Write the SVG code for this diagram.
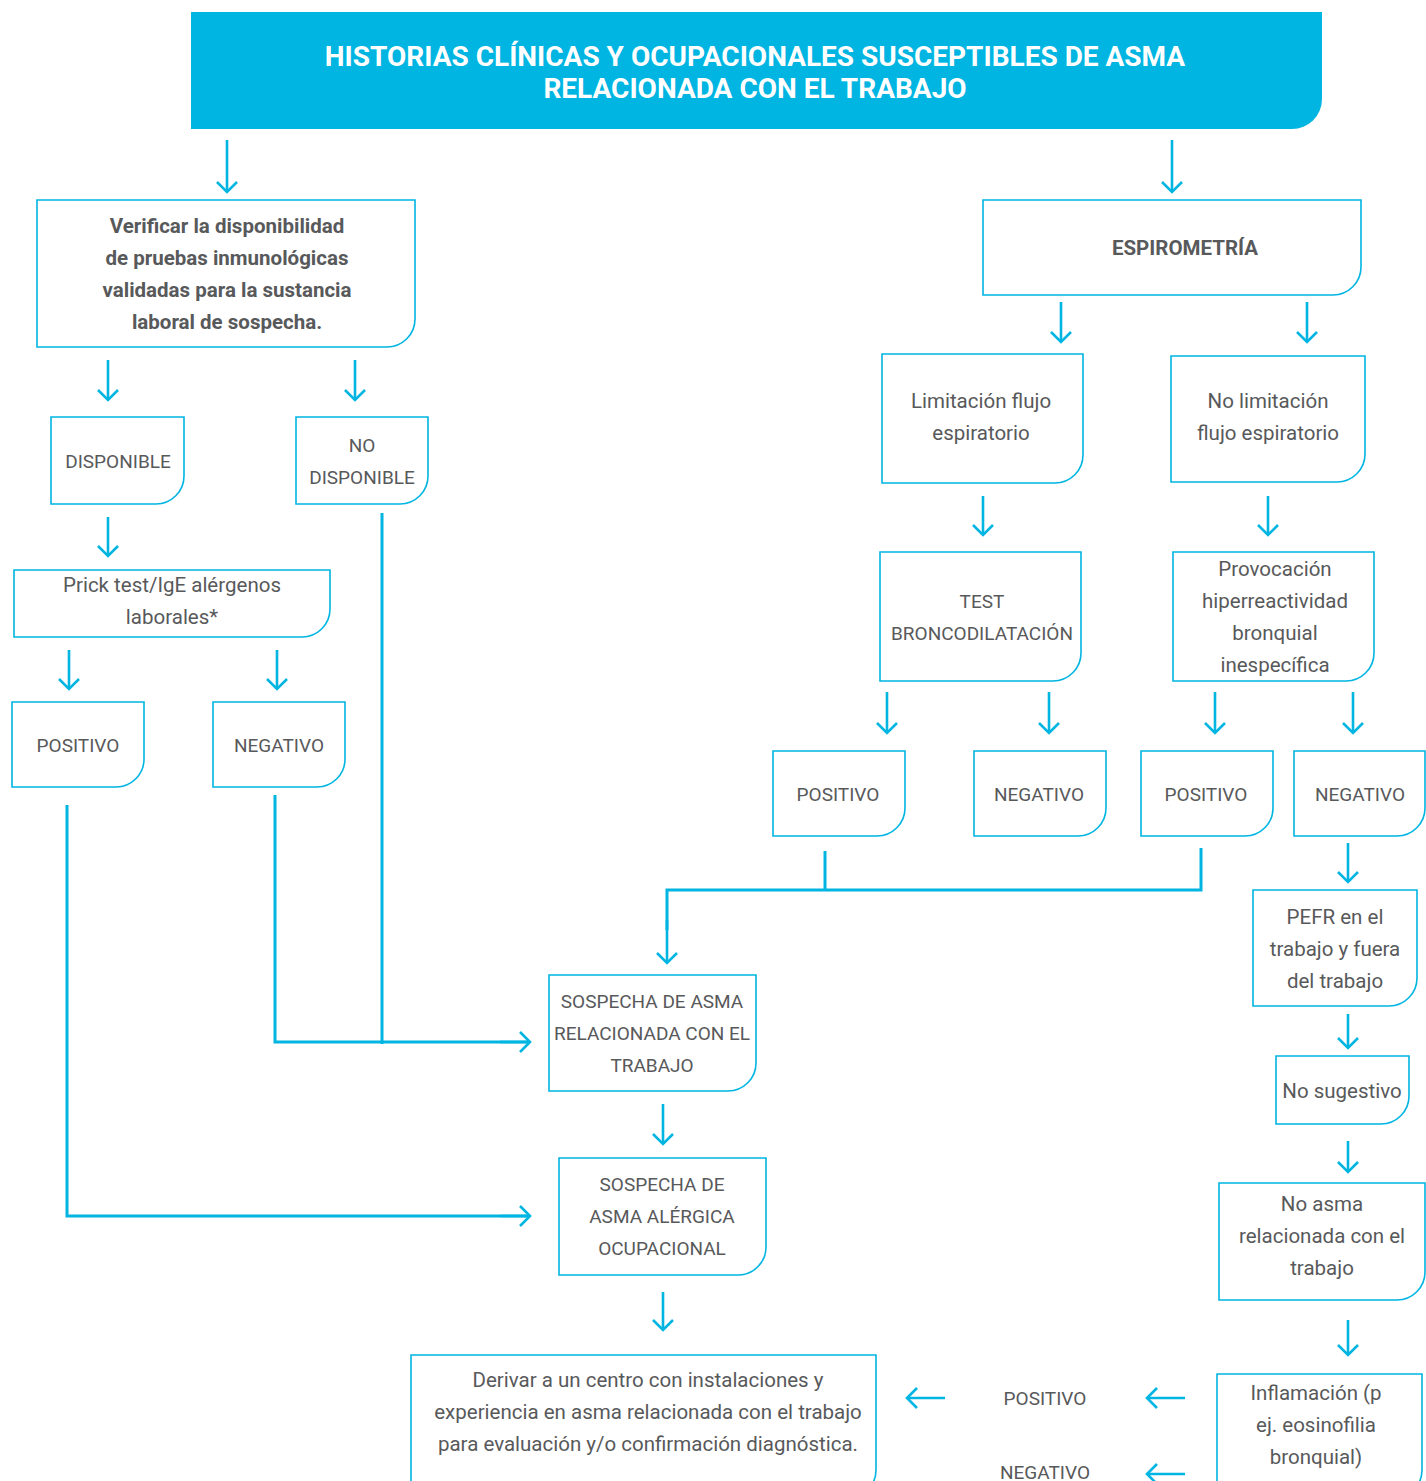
<svg xmlns="http://www.w3.org/2000/svg" width="1426" height="1481" viewBox="0 0 1426 1481">
<style>
.bx{fill:#fff;stroke:#00b5e2;stroke-width:1.6}
.t{font-family:Roboto,"Liberation Sans",sans-serif;font-size:19px;fill:#58595b;text-anchor:middle;dominant-baseline:central}
.l{font-size:20.5px}
.b{font-weight:bold;font-size:20.5px}
.ar{fill:none;stroke:#00b5e2;stroke-width:2.6;marker-end:url(#ah)}
.ln{fill:none;stroke:#00b5e2;stroke-width:3}
.h{font-family:Roboto,"Liberation Sans",sans-serif;font-size:28px;font-weight:bold;fill:#fff;text-anchor:middle;dominant-baseline:central}
</style>
<defs>
<marker id="ah" viewBox="0 0 24 24" markerWidth="24" markerHeight="24" refX="12" refY="12" orient="auto" markerUnits="userSpaceOnUse">
<path d="M2 2 L12 12 L2 22" fill="none" stroke="#00b5e2" stroke-width="2.6"/>
</marker>
</defs>
<rect width="1426" height="1481" fill="#fff"/>

<g id="header">
<path d="M191 12 H1322 V99 A30 30 0 0 1 1292 129 H191 Z" fill="#00b5e2"/>
<text class="h" x="755" y="56">HISTORIAS CLÍNICAS Y OCUPACIONALES SUSCEPTIBLES DE ASMA</text>
<text class="h" x="755" y="88">RELACIONADA CON EL TRABAJO</text>
</g>

<g id="connectors">
<path class="ar" d="M227 140 V192"/>
<path class="ar" d="M1172 140 V192"/>
<path class="ar" d="M108 360 V400"/>
<path class="ar" d="M355 360 V400"/>
<path class="ar" d="M108 517 V556"/>
<path class="ar" d="M69 650 V689"/>
<path class="ar" d="M277 650 V689"/>
<path class="ln" d="M67 805 V1216 H528"/>
<path class="ar" d="M500 1216 H530"/>
<path class="ln" d="M275 795 V1042 H528"/>
<path class="ar" d="M500 1042 H530"/>
<path class="ln" d="M382 513 V1044"/>
<path class="ar" d="M1061 302 V342"/>
<path class="ar" d="M1307 302 V342"/>
<path class="ar" d="M983 496 V535"/>
<path class="ar" d="M1268 496 V535"/>
<path class="ar" d="M887 692 V733"/>
<path class="ar" d="M1049 692 V733"/>
<path class="ar" d="M1215 692 V733"/>
<path class="ar" d="M1353 692 V733"/>
<path class="ln" d="M825 851 V890"/>
<path class="ln" d="M1201 848 V890 H667 V930"/>
<path class="ar" d="M667 920 V963"/>
<path class="ar" d="M1348 843 V882"/>
<path class="ar" d="M1348 1014 V1048"/>
<path class="ar" d="M1348 1141 V1172"/>
<path class="ar" d="M663 1104 V1144"/>
<path class="ar" d="M663 1292 V1330"/>
<path class="ar" d="M1348 1320 V1355"/>
<path class="ar" d="M1185 1398 H1147"/>
<path class="ar" d="M945 1398 H907"/>
<path class="ar" d="M1185 1474 H1147"/>
</g>

<g id="n-verificar">
<path class="bx" d="M37 200 H415 V319 A28 28 0 0 1 387 347 H37 Z"/>
<text class="t b" x="227" y="226">Verificar la disponibilidad</text>
<text class="t b" x="227" y="258">de pruebas inmunológicas</text>
<text class="t b" x="227" y="290">validadas para la sustancia</text>
<text class="t b" x="227" y="322">laboral de sospecha.</text>
</g>
<g id="n-espirometria">
<path class="bx" d="M983 200 H1361 V267 A28 28 0 0 1 1333 295 H983 Z"/>
<text class="t b" x="1185" y="248">ESPIROMETRÍA</text>
</g>
<g id="n-disponible">
<path class="bx" d="M51 417 H184 V476 A28 28 0 0 1 156 504 H51 Z"/>
<text class="t" x="118" y="461">DISPONIBLE</text>
</g>
<g id="n-nodisponible">
<path class="bx" d="M296 417 H428 V476 A28 28 0 0 1 400 504 H296 Z"/>
<text class="t" x="362" y="445">NO</text>
<text class="t" x="362" y="477">DISPONIBLE</text>
</g>
<g id="n-prick">
<path class="bx" d="M14 570 H330 V609 A28 28 0 0 1 302 637 H14 Z"/>
<text class="t l" x="172" y="585">Prick test/IgE alérgenos</text>
<text class="t l" x="172" y="617">laborales*</text>
</g>
<g id="n-pos1">
<path class="bx" d="M12 702 H144 V759 A28 28 0 0 1 116 787 H12 Z"/>
<text class="t" x="78" y="745">POSITIVO</text>
</g>
<g id="n-neg1">
<path class="bx" d="M213 702 H345 V759 A28 28 0 0 1 317 787 H213 Z"/>
<text class="t" x="279" y="745">NEGATIVO</text>
</g>
<g id="n-limitacion">
<path class="bx" d="M882 354 H1083 V455 A28 28 0 0 1 1055 483 H882 Z"/>
<text class="t l" x="981" y="401">Limitación flujo</text>
<text class="t l" x="981" y="433">espiratorio</text>
</g>
<g id="n-nolimitacion">
<path class="bx" d="M1171 356 H1365 V454 A28 28 0 0 1 1337 482 H1171 Z"/>
<text class="t l" x="1268" y="401">No limitación</text>
<text class="t l" x="1268" y="433">flujo espiratorio</text>
</g>
<g id="n-test">
<path class="bx" d="M880 552 H1081 V653 A28 28 0 0 1 1053 681 H880 Z"/>
<text class="t" x="982" y="601">TEST</text>
<text class="t" x="982" y="633">BRONCODILATACIÓN</text>
</g>
<g id="n-provocacion">
<path class="bx" d="M1173 552 H1374 V653 A28 28 0 0 1 1346 681 H1173 Z"/>
<text class="t l" x="1275" y="569">Provocación</text>
<text class="t l" x="1275" y="601">hiperreactividad</text>
<text class="t l" x="1275" y="633">bronquial</text>
<text class="t l" x="1275" y="665">inespecífica</text>
</g>
<g id="n-pos2">
<path class="bx" d="M773 751 H905 V808 A28 28 0 0 1 877 836 H773 Z"/>
<text class="t" x="838" y="794">POSITIVO</text>
</g>
<g id="n-neg2">
<path class="bx" d="M974 751 H1106 V808 A28 28 0 0 1 1078 836 H974 Z"/>
<text class="t" x="1039" y="794">NEGATIVO</text>
</g>
<g id="n-pos3">
<path class="bx" d="M1141 751 H1273 V808 A28 28 0 0 1 1245 836 H1141 Z"/>
<text class="t" x="1206" y="794">POSITIVO</text>
</g>
<g id="n-neg3">
<path class="bx" d="M1294 751 H1425 V808 A28 28 0 0 1 1397 836 H1294 Z"/>
<text class="t" x="1360" y="794">NEGATIVO</text>
</g>
<g id="n-pefr">
<path class="bx" d="M1253 890 H1417 V978 A28 28 0 0 1 1389 1006 H1253 Z"/>
<text class="t l" x="1335" y="917">PEFR en el</text>
<text class="t l" x="1335" y="949">trabajo y fuera</text>
<text class="t l" x="1335" y="981">del trabajo</text>
</g>
<g id="n-nosugestivo">
<path class="bx" d="M1276 1056 H1409 V1096 A28 28 0 0 1 1381 1124 H1276 Z"/>
<text class="t l" x="1342" y="1091">No sugestivo</text>
</g>
<g id="n-noasma">
<path class="bx" d="M1219 1183 H1425 V1272 A28 28 0 0 1 1397 1300 H1219 Z"/>
<text class="t l" x="1322" y="1204">No asma</text>
<text class="t l" x="1322" y="1236">relacionada con el</text>
<text class="t l" x="1322" y="1268">trabajo</text>
</g>
<g id="n-inflamacion">
<path class="bx" d="M1217 1374 H1422 V1470 A28 28 0 0 1 1394 1498 H1217 Z"/>
<text class="t l" x="1316" y="1393">Inflamación (p</text>
<text class="t l" x="1316" y="1425">ej. eosinofilia</text>
<text class="t l" x="1316" y="1457">bronquial)</text>
</g>
<g id="n-sospecha1">
<path class="bx" d="M549 975 H756 V1063 A28 28 0 0 1 728 1091 H549 Z"/>
<text class="t" x="652" y="1001">SOSPECHA DE ASMA</text>
<text class="t" x="652" y="1033">RELACIONADA CON EL</text>
<text class="t" x="652" y="1065">TRABAJO</text>
</g>
<g id="n-sospecha2">
<path class="bx" d="M559 1158 H766 V1247 A28 28 0 0 1 738 1275 H559 Z"/>
<text class="t" x="662" y="1184">SOSPECHA DE</text>
<text class="t" x="662" y="1216">ASMA ALÉRGICA</text>
<text class="t" x="662" y="1248">OCUPACIONAL</text>
</g>
<g id="n-derivar">
<path class="bx" d="M411 1355 H876 V1470 A28 28 0 0 1 848 1498 H411 Z"/>
<text class="t l" x="648" y="1380">Derivar a un centro con instalaciones y</text>
<text class="t l" x="648" y="1412">experiencia en asma relacionada con el trabajo</text>
<text class="t l" x="648" y="1444">para evaluación y/o confirmación diagnóstica.</text>
</g>
<g id="lbl-positivo">
<text class="t" x="1045" y="1398">POSITIVO</text>
</g>
<g id="lbl-negativo">
<text class="t" x="1045" y="1472">NEGATIVO</text>
</g>
</svg>
